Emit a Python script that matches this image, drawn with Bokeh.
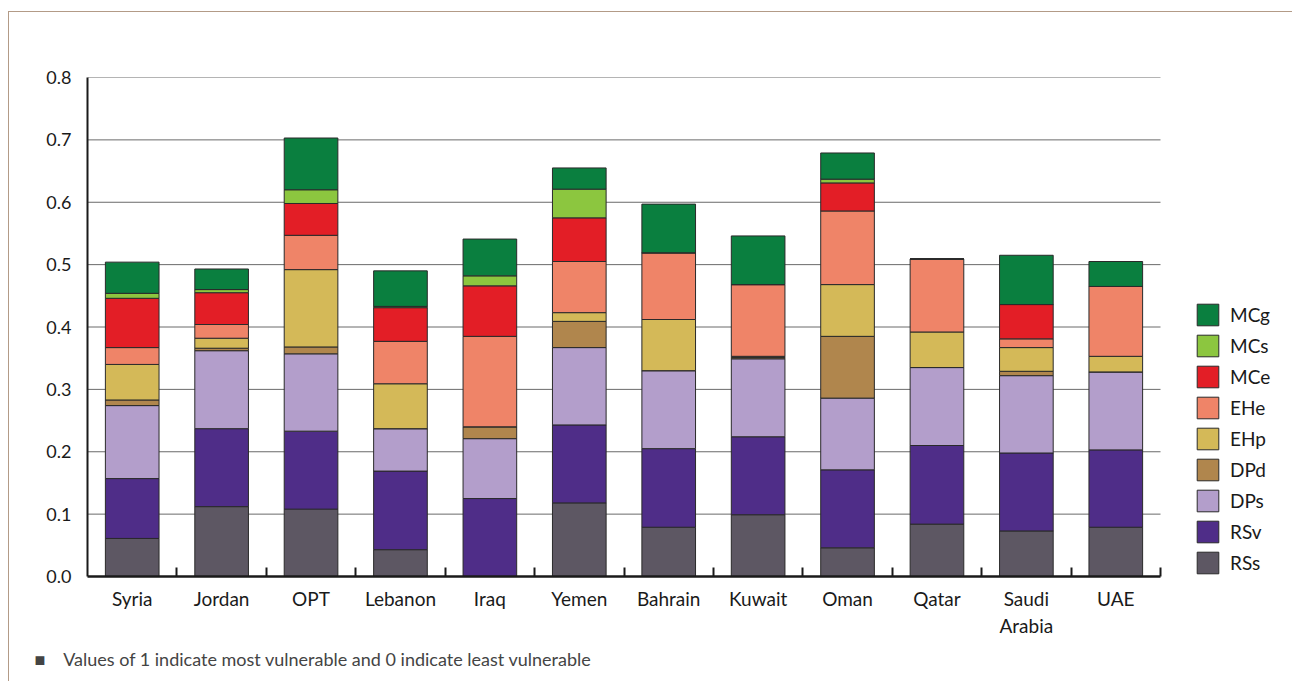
from bokeh.plotting import figure
from bokeh.models import (ColumnDataSource, FixedTicker, Legend, LegendItem, Title,
                          Range1d, PrintfTickFormatter)
from bokeh.embed import file_html
from bokeh.resources import INLINE

countries = ["Syria", "Jordan", "OPT", "Lebanon", "Iraq", "Yemen", "Bahrain",
             "Kuwait", "Oman", "Qatar", "Saudi Arabia", "UAE"]

series = ["RSs", "RSv", "DPs", "DPd", "EHp", "EHe", "MCe", "MCs", "MCg"]

RSs = [0.061, 0.112, 0.108, 0.043, 0.000, 0.118, 0.079, 0.099, 0.046, 0.084, 0.073, 0.079]
RSv = [0.096, 0.125, 0.125, 0.126, 0.125, 0.125, 0.126, 0.125, 0.125, 0.126, 0.125, 0.124]
DPs = [0.117, 0.125, 0.124, 0.068, 0.096, 0.124, 0.125, 0.125, 0.115, 0.125, 0.124, 0.125]
DPd = [0.009, 0.004, 0.011, 0.000, 0.019, 0.042, 0.000, 0.002, 0.099, 0.000, 0.007, 0.000]
EHp = [0.057, 0.016, 0.124, 0.072, 0.000, 0.014, 0.082, 0.002, 0.083, 0.057, 0.038, 0.025]
EHe = [0.027, 0.022, 0.055, 0.068, 0.145, 0.082, 0.107, 0.115, 0.118, 0.117, 0.014, 0.112]
MCe = [0.079, 0.051, 0.051, 0.054, 0.081, 0.070, 0.000, 0.000, 0.045, 0.000, 0.055, 0.000]
MCs = [0.008, 0.005, 0.022, 0.002, 0.016, 0.046, 0.000, 0.000, 0.006, 0.000, 0.000, 0.000]
MCg = [0.050, 0.033, 0.083, 0.057, 0.059, 0.034, 0.078, 0.078, 0.042, 0.000, 0.079, 0.040]

y_ticks = [0.0, 0.1, 0.2, 0.3, 0.4, 0.5, 0.6, 0.7, 0.8]

colors = ["#5d5763", "#4f2d88", "#b39ecb", "#b0864d", "#d4b958",
          "#ef8468", "#e31e26", "#8cc63f", "#0a7f3f"]

note = "\u25A0" + "\u00a0" * 4 + \
       "Values of 1 indicate most vulnerable and 0 indicate least vulnerable"

FONT = "Lato"

n = len(countries)
# layout (pixels)
W, H = 1284, 670
LEFT, RIGHT, TOP, BOTTOM = 78, 4, 65, 106
BARS_W = 1073                      # width of the part of the frame used by the bars
frame_w = W - LEFT - RIGHT
x_end = n * frame_w / BARS_W

xs = [i + 0.5 for i in range(n)]
source = ColumnDataSource(dict(x=xs, RSs=RSs, RSv=RSv, DPs=DPs, DPd=DPd, EHp=EHp,
                               EHe=EHe, MCe=MCe, MCs=MCs, MCg=MCg))

p = figure(width=W, height=H, x_range=Range1d(0, x_end),
           y_range=Range1d(0, 0.8), output_backend="svg", toolbar_location=None,
           min_border_left=LEFT, min_border_right=RIGHT, min_border_top=TOP,
           min_border_bottom=BOTTOM)
p.outline_line_color = None
p.background_fill_color = "white"
p.border_fill_color = "white"
p.styles = {"border-top": "1px solid #b39b87", "border-left": "1px solid #b39b87",
            "margin-left": "8px", "margin-top": "11px"}

# horizontal grid lines, limited to the bar area
grid_y = y_ticks[1:]
p.segment(x0=[0] * len(grid_y), x1=[n] * len(grid_y), y0=grid_y, y1=grid_y,
          line_color="#6a6a6a", line_width=1, level="underlay")

renderers = p.vbar_stack(series, x="x", width=0.6, color=colors, source=source,
                         line_color="#2a2a2a", line_width=1)

# x axis
p.xaxis.bounds = (0, n)
p.xaxis.ticker = FixedTicker(ticks=xs, minor_ticks=list(range(1, n + 1)))
p.xaxis.major_label_overrides = {x: c.replace(" ", "\n") for x, c in zip(xs, countries)}
p.xaxis.major_tick_line_color = None
p.xaxis.minor_tick_in = 9
p.xaxis.minor_tick_out = 0
p.xaxis.minor_tick_line_color = "#1a1a1a"
p.xaxis.minor_tick_line_width = 2
p.xaxis.axis_line_width = 2.5
p.xaxis.axis_line_color = "#1a1a1a"
p.xaxis.major_label_standoff = 4
p.xaxis.major_label_text_font = FONT
p.xaxis.major_label_text_font_size = "19px"
p.xaxis.major_label_text_color = "#1a1a1a"

# y axis
p.yaxis.ticker = FixedTicker(ticks=y_ticks)
p.yaxis.formatter = PrintfTickFormatter(format="%.1f")
p.yaxis.major_tick_line_color = None
p.yaxis.minor_tick_line_color = None
p.yaxis.axis_line_width = 2
p.yaxis.axis_line_color = "#1a1a1a"
p.yaxis.major_label_standoff = 10
p.yaxis.major_label_text_font = FONT
p.yaxis.major_label_text_font_size = "18px"
p.yaxis.major_label_text_color = "#1a1a1a"

p.xgrid.grid_line_color = None
p.ygrid.grid_line_color = None

items = [LegendItem(label=s, renderers=[r]) for s, r in zip(series, renderers)][::-1]
legend = Legend(items=items, location=(1107, 0), padding=0, margin=0,
                glyph_width=27, glyph_height=27, spacing=4, label_standoff=9,
                label_text_font=FONT, label_text_font_size="19px",
                label_text_color="#1a1a1a", background_fill_alpha=0,
                border_line_color=None)
p.add_layout(legend, "center")

p.add_layout(Title(text=note, align="left", offset=-53, standoff=10,
                   text_font=FONT, text_font_size="18px", text_font_style="normal",
                   text_color="#444444"), "below")

open("out.html", "w").write(file_html(p, INLINE))
